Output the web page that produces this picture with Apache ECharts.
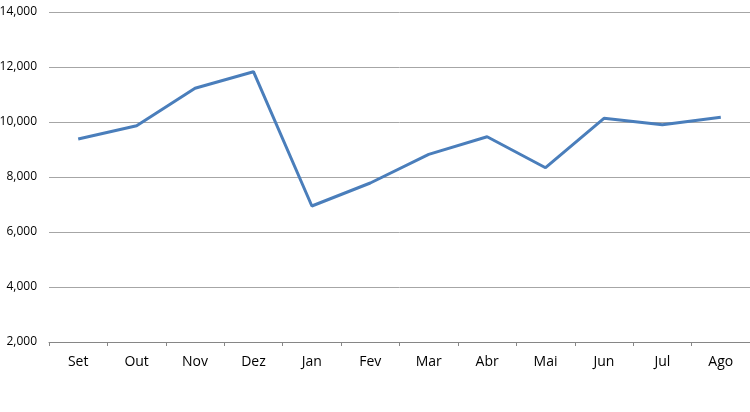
<!DOCTYPE html>
<html><head><meta charset="utf-8">
<script src="https://cdn.jsdelivr.net/npm/echarts@6/dist/echarts.min.js"></script>
<style>html,body{margin:0;padding:0;background:#fff}#c{width:750px;height:412px}</style>
</head><body><div id="c"></div>
<script>
const categories = ['Set','Out','Nov','Dez','Jan','Fev','Mar','Abr','Mai','Jun','Jul','Ago'];
const values = [9380, 9866, 11225, 11829, 6945, 7782, 8825, 9465, 8338, 10135, 9900, 10170];
const chart = echarts.init(document.getElementById('c'), null, {renderer:'canvas'});
chart.setOption({
  animation:false,
  grid:{left:49, right:0, top:12, bottom:70, containLabel:false, outerBoundsMode:'none'},
  xAxis:{type:'category', data:categories, boundaryGap:true,
    axisLine:{lineStyle:{color:'#868686', width:1}},
    axisTick:{show:true, length:4, lineStyle:{color:'#868686'}},
    axisLabel:{color:'#000', fontFamily:'Open Sans', fontSize:14, margin:13}},
  yAxis:{type:'value', min:2000, max:14000, interval:2000,
    axisLine:{show:false}, axisTick:{show:false},
    splitLine:{lineStyle:{color:'#A6A6A6', width:1}},
    axisLabel:{color:'#000', fontFamily:'Open Sans', fontSize:12, margin:12,
      formatter:v=>v.toLocaleString('en-US')}},
  series:[{type:'line', data:values, symbol:'none',
    lineStyle:{color:'#4A7EBB', width:3}}]
});
</script></body></html>
